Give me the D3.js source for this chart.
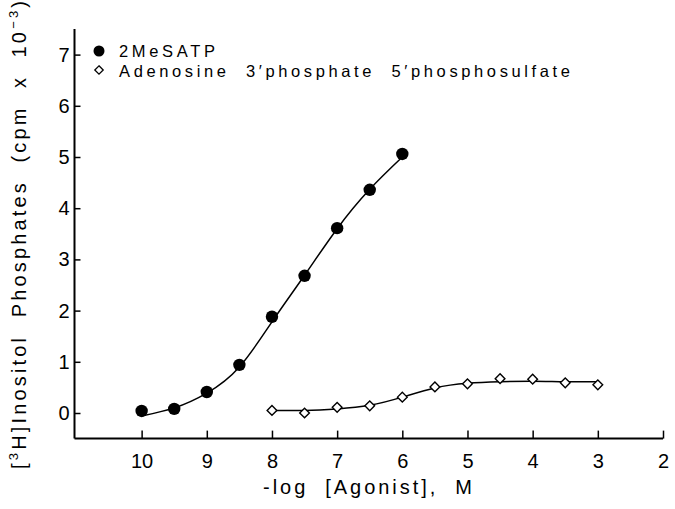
<!DOCTYPE html>
<html><head><meta charset="utf-8">
<script src="https://cdn.jsdelivr.net/npm/d3@7"></script>
<style>html,body{margin:0;padding:0;background:#fff;}svg{display:block;}</style>
</head><body>
<svg id="c" width="675" height="509"></svg>
<script>
// Data
const xTicks = [10, 9, 8, 7, 6, 5, 4, 3, 2];
const yTicks = [0, 1, 2, 3, 4, 5, 6, 7];
const meSatpX = [10, 9.5, 9, 8.5, 8, 7.5, 7, 6.5, 6];
const meSatpY = [0.04, 0.08, 0.41, 0.94, 1.88, 2.68, 3.61, 4.36, 5.06];
const meSatpFitY = [-0.06, 0.1, 0.39, 0.9, 1.78, 2.69, 3.6, 4.37, 5.0];
const papsX = [8, 7.5, 7, 6.5, 6, 5.5, 5, 4.5, 4, 3.5, 3];
const papsY = [0.05, 0.0, 0.11, 0.14, 0.31, 0.51, 0.57, 0.67, 0.66, 0.59, 0.55];
const papsFitY = [0.05, 0.05, 0.08, 0.15, 0.31, 0.49, 0.58, 0.61, 0.62, 0.61, 0.61];
const legendLabels = ["2MeSATP", "Adenosine  3\u2032phosphate  5\u2032phosphosulfate"];

const svg = d3.select("#c");
const font = "'Liberation Sans', Arial, sans-serif";
const x = d3.scaleLinear().domain([11.03, 2]).range([74.5, 663]);
const y = d3.scaleLinear().domain([-0.5, 7.5]).range([438.6, 29]);

// axes
const xAxis = svg.append("g").attr("transform", `translate(0,${y(-0.5)})`)
  .call(d3.axisBottom(x).tickValues(xTicks).tickSize(-8).tickPadding(15).tickFormat(d3.format("d")));
const yAxis = svg.append("g").attr("transform", `translate(${x(11.03)},0)`)
  .call(d3.axisLeft(y).tickValues(yTicks).tickSize(-6).tickPadding(5).tickFormat(d3.format("d")));
[xAxis, yAxis].forEach(g => {
  g.select(".domain").attr("stroke", "#000").attr("stroke-width", 2);
  g.selectAll(".tick line").attr("stroke", "#000").attr("stroke-width", 1.5);
  g.selectAll(".tick text").attr("font-family", font).attr("font-size", 20).attr("fill", "#000");
});
xAxis.select(".domain").attr("d", `M${x(11.03)},0H${x(2)}`);
yAxis.select(".domain").attr("d", `M0,${y(-0.5)}V${y(7.5)}`);

// fitted curves
const line = d3.line().curve(d3.curveNatural);
svg.append("path").attr("fill", "none").attr("stroke", "#000").attr("stroke-width", 1.5)
  .attr("d", line(meSatpX.map((v, i) => [x(v), y(meSatpFitY[i])])));
svg.append("path").attr("fill", "none").attr("stroke", "#000").attr("stroke-width", 1.5)
  .attr("d", line(papsX.map((v, i) => [x(v), y(papsFitY[i])])));

// markers
svg.append("g").selectAll("circle").data(meSatpX).join("circle")
  .attr("cx", d => x(d)).attr("cy", (d, i) => y(meSatpY[i])).attr("r", 6.2).attr("fill", "#000");
const diamond = d3.symbol().type(d3.symbolDiamond2).size(60);
svg.append("g").selectAll("path").data(papsX).join("path")
  .attr("transform", (d, i) => `translate(${x(d)},${y(papsY[i])})`)
  .attr("d", diamond()).attr("fill", "#fff").attr("stroke", "#000").attr("stroke-width", 1.4);

// legend
svg.append("circle").attr("cx", 99).attr("cy", 51).attr("r", 5.5).attr("fill", "#000");
svg.append("path").attr("transform", "translate(99,70)").attr("d", d3.symbol().type(d3.symbolDiamond2).size(45)())
  .attr("fill", "#fff").attr("stroke", "#000").attr("stroke-width", 1.3);
svg.append("text").attr("x", 119).attr("y", 57).attr("font-family", font).attr("font-size", 16.5)
  .attr("textLength", 96).attr("lengthAdjust", "spacing").text(legendLabels[0]);
svg.append("text").attr("x", 119).attr("y", 76.5).attr("font-family", font).attr("font-size", 16.5)
  .attr("textLength", 451).attr("lengthAdjust", "spacing")
  .style("white-space", "pre").text(legendLabels[1]);

// axis titles
svg.append("text").attr("x", 367.5).attr("y", 494).attr("text-anchor", "middle")
  .attr("font-family", font).attr("font-size", 20).attr("textLength", 209).attr("lengthAdjust", "spacing")
  .style("white-space", "pre").text("-log  [Agonist],  M");
const yl = svg.append("text").attr("transform", "translate(26,235) rotate(-90)")
  .attr("text-anchor", "middle").attr("font-family", font).attr("font-size", 20)
  .attr("textLength", 468).attr("lengthAdjust", "spacing").style("white-space", "pre");
yl.append("tspan").text("[");
yl.append("tspan").attr("font-size", 13).attr("dy", -8).text("3");
yl.append("tspan").attr("dy", 8).text("H]Inositol  Phosphates  (cpm  x  10");
yl.append("tspan").attr("font-size", 13).attr("dy", -8).text("\u22123");
yl.append("tspan").attr("dy", 8).text(")");
</script>
</body></html>
